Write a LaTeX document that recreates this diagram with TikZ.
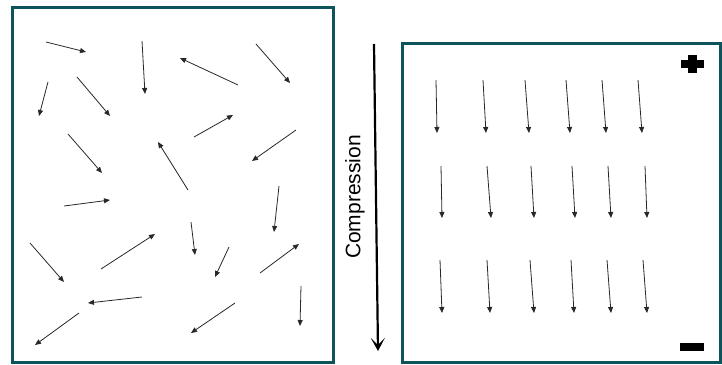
\documentclass[tikz,border=0pt]{standalone}
\usepackage{fontspec}
\setmainfont{Liberation Sans}
\usetikzlibrary{arrows.meta}
\definecolor{frame}{RGB}{14,84,92}
\definecolor{dip}{RGB}{40,40,40}
\tikzset{
  panel/.style={draw=frame, line width=3pt},
  dipole/.style={draw=dip, line width=0.8pt, -{Triangle[length=6pt,width=5pt]}},
  press/.style={draw=black, line width=2.2pt, -{Stealth[length=13pt,width=14pt,inset=7pt]}},
  sign/.style={fill=black, draw=none}
}
\begin{document}
\begin{tikzpicture}[x=1pt,y=-1pt]
\useasboundingbox (0,0) rectangle (722,364);

% unpoled panel
\draw[panel] (12.5,7) rectangle (333,362);
% poled panel
\draw[panel] (402,43) rectangle (720,362);

% randomly oriented dipoles
\foreach \ax/\ay/\bx/\by in {
  46/42/86/52, 142/41/145/94, 238/85/180/58, 256/44/290/83,
  48/82/39/116, 77/77/110/116, 194/137/233/115, 296/130/252/161,
  68/134/102/173, 188/190/158/142, 64/206/110/200, 279/186/274/232,
  30/243/64/282, 101/269/155/234, 191/222/195/255, 229/247/215/277,
  260/273/299/244, 142/297/88/303, 301/286/300/326, 79/313/35/345,
  235/303/191/333}
{
  \coordinate (t) at (\ax,\ay);
  \coordinate (h) at (\bx,\by);
  \draw[dipole] (t) -- (h);
}

% aligned dipoles after poling
\foreach \ax/\ay/\bx/\by in {
  436/80/437/133, 483/80/486/133, 525/80/529/133,
  566/80/570/133, 602/80/606/133, 638/80/642/133,
  441/166/442/218, 487/166/491/218, 531/166/534/218,
  572/166/575/218, 608/166/611/218, 645/166/647/218,
  440/260/442/313, 487/260/490/313, 530/260/534/313,
  571/260/574/313, 607/260/611/313, 643/260/647/313}
{
  \coordinate (t) at (\ax,\ay);
  \coordinate (h) at (\bx,\by);
  \draw[dipole] (t) -- (h);
}

% compression arrow and label
\coordinate (ctop) at (374,44);
\coordinate (cbot) at (378,351);
\draw[press] (ctop) -- (cbot);
\node[rotate=90, font=\fontsize{21}{24}\selectfont] (clabel) at (355,197) {Compression};

% electrode signs
\fill[sign] (681,60) rectangle (704,68);
\fill[sign] (688,55) rectangle (697,73);
\fill[sign] (680,343) rectangle (704,351);
\end{tikzpicture}
\end{document}
